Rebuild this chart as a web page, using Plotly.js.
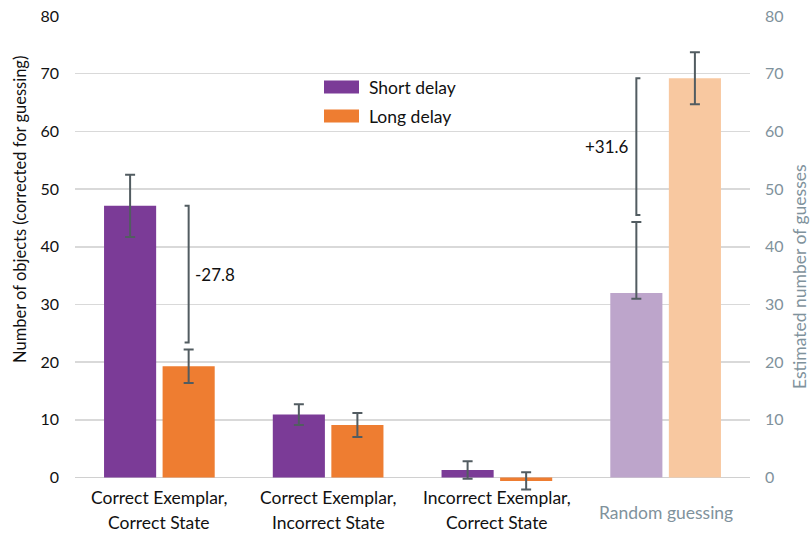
<!DOCTYPE html>
<html>
<head>
<meta charset="utf-8">
<script src="https://cdn.plot.ly/plotly-3.0.1.min.js"></script>
<style>html,body{margin:0;padding:0;background:#fff;}#chart{width:812px;height:535px;}</style>
</head>
<body>
<div id="chart"></div>
<script>
// ---- data ----
const categories = ["Correct Exemplar, Correct State", "Correct Exemplar, Incorrect State", "Incorrect Exemplar, Correct State", "Random guessing"];
const labelLine1 = ["Correct Exemplar,", "Correct Exemplar,", "Incorrect Exemplar,", "Random guessing"];
const labelLine2 = ["Correct State", "Incorrect State", "Correct State", ""];
const shortDelay = [47.1, 10.9, 1.3, 32.0];
const shortErrPlus = [5.4, 1.8, 1.5, 12.3];
const shortErrMinus = [5.4, 1.8, 1.5, 1.0];
const longDelay = [19.3, 9.1, -0.6, 69.2];
const longErr = [2.9, 2.1, 1.5, 4.5];
const seriesNames = ["Short delay", "Long delay"];
const bracketTop = [47.1, 69.2];
const bracketBottom = [23.4, 45.5];
const bracketLabels = ["-27.8", "+31.6"];
const leftTicks = [0, 10, 20, 30, 40, 50, 60, 70, 80];

// ---- style ----
const FONT = "Lato, 'Open Sans', sans-serif";
const purple = "#7b3b97", orange = "#ee7d31";
const purpleLight = "#bda5cb", orangeLight = "#f8c8a0";
const errColor = "#525c61";
const grayText = "#7f929c";
const bargap = 0.306;

const W = 812, H = 535;
const M = {l: 75, r: 62, t: 16, b: 43};
const zeroPx = 477.5;                     // pixel row of value 0
const pxPerUnit = (zeroPx - M.t) / 80;    // 80 at top of plot
const yMin = -((H - M.b) - zeroPx) / pxPerUnit;
const pw = W - M.l - M.r, ph = H - M.t - M.b;
const px = x => (x - M.l) / pw;
const py = y => (H - M.b - y) / ph;

const traces = [
  {
    type: "bar", name: seriesNames[0], x: categories, y: shortDelay,
    marker: {color: [purple, purple, purple, purpleLight]},
    error_y: {type: "data", symmetric: false, array: shortErrPlus, arrayminus: shortErrMinus, color: errColor, thickness: 2, width: 5},
    showlegend: false, hoverinfo: "skip"
  },
  {
    type: "bar", name: seriesNames[1], x: categories, y: longDelay,
    marker: {color: [orange, orange, orange, orangeLight]},
    error_y: {type: "data", array: longErr, color: errColor, thickness: 2, width: 5},
    showlegend: false, hoverinfo: "skip"
  },
  {
    type: "scatter", mode: "markers", x: [categories[3]], y: [shortDelay[3]], yaxis: "y2",
    marker: {opacity: 0}, showlegend: false, hoverinfo: "skip"
  }
];

const slot = (1 - bargap) / 2;
const off = slot / 2;
const tick = 0.024;
const bracketX = [0 + off, 3 - off];
const bracketDir = [-1, 1];

const shapes = [];
const annotations = [];
for (let i = 0; i < bracketTop.length; i++) {
  const x = bracketX[i], d = bracketDir[i] * tick;
  shapes.push({
    type: "path", xref: "x", yref: "y",
    path: `M ${x + d},${bracketTop[i]} L ${x},${bracketTop[i]} L ${x},${bracketBottom[i]} L ${x + d},${bracketBottom[i]}`,
    line: {color: errColor, width: 2}
  });
  annotations.push({
    xref: "x", yref: "y", x: x, y: (bracketTop[i] + bracketBottom[i]) / 2,
    text: bracketLabels[i], showarrow: false,
    xanchor: i === 0 ? "left" : "right", xshift: i === 0 ? 4 : -5,
    font: {family: FONT, size: 17, color: "#111"}
  });
}

// category labels
categories.forEach((c, i) => {
  const isRandom = i === 3;
  annotations.push({
    xref: "x", yref: "y", x: c, y: 0, yanchor: "middle", yshift: isRandom ? -35 : -20,
    text: labelLine1[i], showarrow: false,
    font: {family: FONT, size: 17.5, color: isRandom ? grayText : "#111"}
  });
  if (labelLine2[i]) {
    annotations.push({
      xref: "x", yref: "y", x: c, y: 0, yanchor: "middle", yshift: -45,
      text: labelLine2[i], showarrow: false,
      font: {family: FONT, size: 17.5, color: "#111"}
    });
  }
});

// axis titles
annotations.push({
  xref: "paper", yref: "paper", x: px(20), y: py(210), xanchor: "center", yanchor: "middle",
  text: "Number of objects (corrected for guessing)", textangle: -90, showarrow: false,
  font: {family: FONT, size: 16.5, color: "#111"}
});
annotations.push({
  xref: "paper", yref: "paper", x: px(799), y: py(277), xanchor: "center", yanchor: "middle",
  text: "Estimated number of guesses", textangle: -90, showarrow: false,
  font: {family: FONT, size: 17.5, color: grayText}
});

// custom legend
const legendColors = [purple, orange];
const legendY = [87, 116];
seriesNames.forEach((n, i) => {
  shapes.push({
    type: "rect", xref: "paper", yref: "paper",
    x0: px(324), x1: px(359), y0: py(legendY[i] - 6.5), y1: py(legendY[i] + 6.5),
    fillcolor: legendColors[i], line: {width: 0}
  });
  annotations.push({
    xref: "paper", yref: "paper", x: px(367), y: py(legendY[i]), xanchor: "left", yanchor: "middle",
    text: n, showarrow: false, font: {family: FONT, size: 17.5, color: "#111"}
  });
});

const layout = {
  width: W, height: H,
  margin: M,
  paper_bgcolor: "#fff", plot_bgcolor: "#fff",
  font: {family: FONT, size: 16, color: "#111"},
  barmode: "group", bargap: bargap, bargroupgap: 0.11,
  showlegend: false,
  xaxis: {
    type: "category", showticklabels: false, ticks: "", showgrid: false, zeroline: false,
    showline: false, range: [-0.5, 3.5]
  },
  yaxis: {
    range: [yMin, 80], tickvals: leftTicks, ticks: "", showgrid: true, gridcolor: "#d9d9d9", gridwidth: 1.5,
    zeroline: true, zerolinecolor: "#d0d0d0", zerolinewidth: 1.5, showline: false,
    tickfont: {family: FONT, size: 16, color: "#111"}, ticklabelstandoff: 15
  },
  yaxis2: {
    overlaying: "y", side: "right", range: [yMin, 80], tickvals: leftTicks, ticks: "",
    showgrid: false, zeroline: false, showline: false,
    tickfont: {family: FONT, size: 16, color: grayText}, ticklabelstandoff: 14
  },
  shapes: shapes,
  annotations: annotations
};

Plotly.newPlot("chart", traces, layout, {displayModeBar: false, staticPlot: true});
</script>
</body>
</html>
